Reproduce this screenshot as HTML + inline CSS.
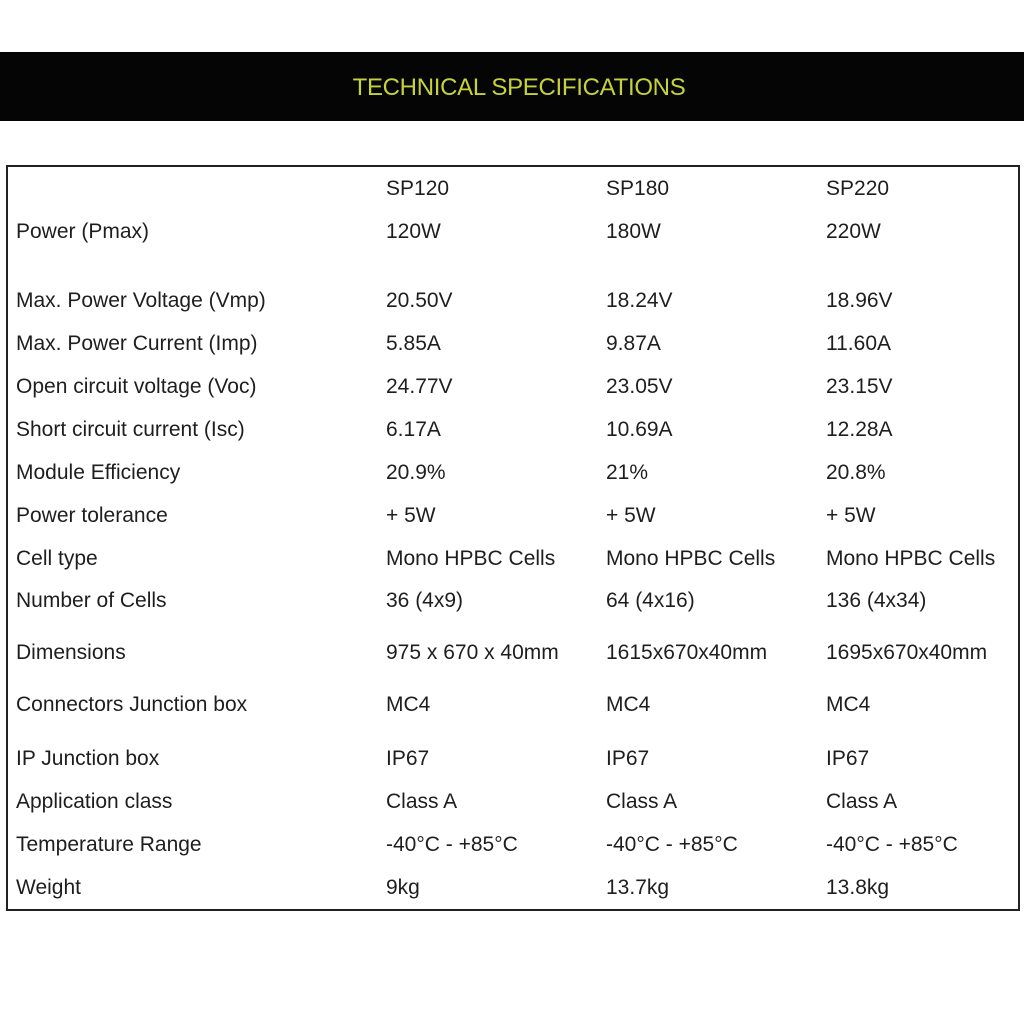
<!DOCTYPE html>
<html><head><meta charset="utf-8"><style>
html,body{margin:0;padding:0;background:#fff;width:1024px;height:1024px;overflow:hidden;font-family:"Liberation Sans",sans-serif;}
.band{position:absolute;left:0;top:52px;width:1024px;height:69px;background:#050505;}
.title{position:absolute;left:0;top:53px;width:1038px;height:69px;line-height:69px;text-align:center;color:#c6d23a;font-size:24px;letter-spacing:-0.3px;}
.box{position:absolute;left:6px;top:165px;width:1010px;height:742px;border:2px solid #222;}
.t{position:absolute;font-size:21px;color:#1e1e1e;white-space:nowrap;line-height:24px;}
</style></head><body>
<div class="band"></div>
<div class="title">TECHNICAL SPECIFICATIONS</div>
<div class="box"></div>
<div id="c"></div>
<script>
var rows=[
[188,"","SP120","SP180","SP220"],
[231,"Power (Pmax)","120W","180W","220W"],
[300,"Max. Power Voltage (Vmp)","20.50V","18.24V","18.96V"],
[343,"Max. Power Current (Imp)","5.85A","9.87A","11.60A"],
[386,"Open circuit voltage (Voc)","24.77V","23.05V","23.15V"],
[429,"Short circuit current (Isc)","6.17A","10.69A","12.28A"],
[472,"Module Efficiency","20.9%","21%","20.8%"],
[515,"Power tolerance","+ 5W","+ 5W","+ 5W"],
[558,"Cell type","Mono HPBC Cells","Mono HPBC Cells","Mono HPBC Cells"],
[600,"Number of Cells","36 (4x9)","64 (4x16)","136 (4x34)"],
[652,"Dimensions","975 x 670 x 40mm","1615x670x40mm","1695x670x40mm"],
[704,"Connectors Junction box","MC4","MC4","MC4"],
[758,"IP Junction box","IP67","IP67","IP67"],
[801,"Application class","Class A","Class A","Class A"],
[844,"Temperature Range","-40\u00b0C - +85\u00b0C","-40\u00b0C - +85\u00b0C","-40\u00b0C - +85\u00b0C"],
[887,"Weight","9kg","13.7kg","13.8kg"]];
var xs=[16,386,606,826],h="";
rows.forEach(function(r){for(var i=0;i<4;i++)h+='<div class="t" style="left:'+xs[i]+'px;top:'+(r[0]-11)+'px">'+r[i+1]+'</div>';});
document.getElementById('c').innerHTML=h;
</script>
</body></html>
